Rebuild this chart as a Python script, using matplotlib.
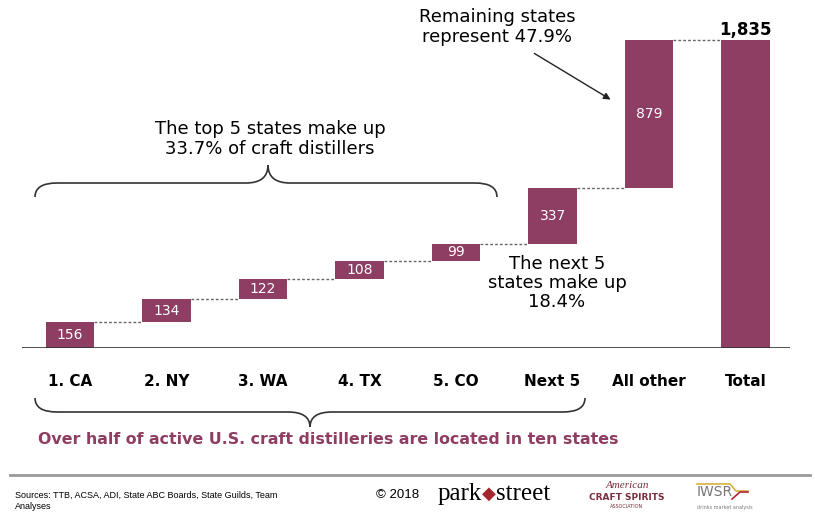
import numpy as np
import matplotlib.pyplot as plt
from matplotlib.path import Path
from matplotlib.patches import PathPatch
from matplotlib.lines import Line2D

# Дані
categories = ['1. CA', '2. NY', '3. WA', '4. TX', '5. CO', 'Next 5', 'All other', 'Total']
values = [156, 134, 122, 108, 99, 337, 879]
total = 1835

bar_color = '#8E3D63'
W, H = 815, 519

fig = plt.figure(figsize=(W / 100, H / 100), dpi=100)


def fx(x):
    return x / W


def fy(y):
    return 1 - y / H


# осі: базова лінія на y=348 px, 1835 на y=40 px
k = (348 - 40) / total
ax = fig.add_axes([fx(22), fy(348), fx(790) - fx(22), 348 / H])
ax.set_xlim(-0.497, 7.46)
ax.set_ylim(0, 348 / k)
ax.axis('off')
ax.axhline(0, color='#333333', lw=1.2)

width = 0.5
cum = np.cumsum(values)
bottoms = cum - np.array(values)
x = np.arange(len(categories))

ax.bar(x[:-1], values, bottom=bottoms, width=width, color=bar_color)
ax.bar(x[-1], total, width=width, color=bar_color)

# підписи значень
for i, v in enumerate(values):
    ax.text(x[i], bottoms[i] + v / 2, str(v), ha='center', va='center',
            color='white', fontsize=10)
ax.text(x[-1], total + 8, f'{total:,}', ha='center', va='bottom',
        fontsize=12, fontweight='bold')

# пунктирні з'єднання
for i in range(len(values)):
    ax.plot([x[i] + width / 2, x[i + 1] - width / 2], [cum[i], cum[i]],
            color='#666666', lw=1, ls=(0, (2, 1.5)))

# категорії
for i, c in enumerate(categories):
    fig.text(fx(22) + (x[i] + 0.497) / 7.957 * (fx(790) - fx(22)), fy(381), c,
             ha='center', va='center', fontsize=11, fontweight='bold')


# фігурні дужки
def brace(x0, x1, xm, y_end, y_mid, y_tip, r=22):
    verts = [(x0, y_end), (x0, y_mid), (x0 + r, y_mid),
             (xm - r, y_mid), (xm, y_mid), (xm, y_tip),
             (xm, y_mid), (xm + r, y_mid),
             (x1 - r, y_mid), (x1, y_mid), (x1, y_end)]
    codes = [Path.MOVETO, Path.CURVE3, Path.CURVE3,
             Path.LINETO, Path.CURVE3, Path.CURVE3,
             Path.CURVE3, Path.CURVE3,
             Path.LINETO, Path.CURVE3, Path.CURVE3]
    verts = [(fx(a), fy(b)) for a, b in verts]
    fig.add_artist(PathPatch(Path(verts, codes), fill=False, lw=1.2,
                             edgecolor='#333333', transform=fig.transFigure))


brace(35, 497, 268, 197, 183, 165)
brace(35, 585, 310, 398, 412, 427)

# анотації
fig.text(fx(270), fy(139), 'The top 5 states make up\n33.7% of craft distillers',
         ha='center', va='center', fontsize=13, linespacing=1.15)
fig.text(fx(557), fy(283), 'The next 5\nstates make up\n18.4%',
         ha='center', va='center', fontsize=13, linespacing=1.1)
fig.text(fx(497), fy(27), 'Remaining states\nrepresent 47.9%',
         ha='center', va='center', fontsize=13, linespacing=1.1)
fig.add_artist(plt.Annotation('', xy=(fx(613), fy(101)), xytext=(fx(532), fy(52)),
                              xycoords='figure fraction', textcoords='figure fraction',
                              arrowprops=dict(arrowstyle='-|>', color='#222222', lw=1)))

# заголовок
fig.text(fx(38), fy(440), 'Over half of active U.S. craft distilleries are located in ten states',
         ha='left', va='center', fontsize=11.4, fontweight='bold', color=bar_color)

# нижній колонтитул
fig.add_artist(Line2D([fx(10), fx(810)], [fy(475), fy(475)], color='#999999', lw=2))
fig.text(fx(15), fy(501), 'Sources: TTB, ACSA, ADI, State ABC Boards, State Guilds, Team\nAnalyses',
         ha='left', va='center', fontsize=6.5, linespacing=1.3, family='Liberation Sans')
fig.text(fx(376), fy(495), '© 2018', ha='left', va='center', fontsize=9.5,
         family='Liberation Sans')
fig.text(fx(482), fy(494), 'park', ha='right', va='center', fontsize=18,
         family='Liberation Serif')
fig.text(fx(489), fy(494), '◆', ha='center', va='center', fontsize=13, color='#A3262F')
fig.text(fx(496), fy(494), 'street', ha='left', va='center', fontsize=18,
         family='Liberation Serif')
fig.text(fx(627), fy(485), 'American', ha='center', va='center', fontsize=8,
         style='italic', color='#7A2D3C', family='Liberation Serif')
fig.text(fx(627), fy(497), 'CRAFT SPIRITS', ha='center', va='center', fontsize=6.5,
         fontweight='bold', color='#7A2D3C')
fig.text(fx(627), fy(506), 'ASSOCIATION', ha='center', va='center', fontsize=3.5,
         color='#7A2D3C')
fig.text(fx(697), fy(492), 'IWSR', ha='left', va='center', fontsize=10, color='#777777')
fig.text(fx(697), fy(507), 'drinks market analysis', ha='left', va='center', fontsize=3.5,
         color='#777777')
fig.add_artist(Line2D([fx(697), fx(730), fx(736), fx(748)],
                      [fy(484), fy(484), fy(491), fy(491)], color='#D9B23A', lw=1.2))
fig.add_artist(Line2D([fx(732), fx(740), fx(748)],
                      [fy(499), fy(492), fy(492)], color='#B3263A', lw=1.2))

fig.savefig('out.png', dpi=100)
